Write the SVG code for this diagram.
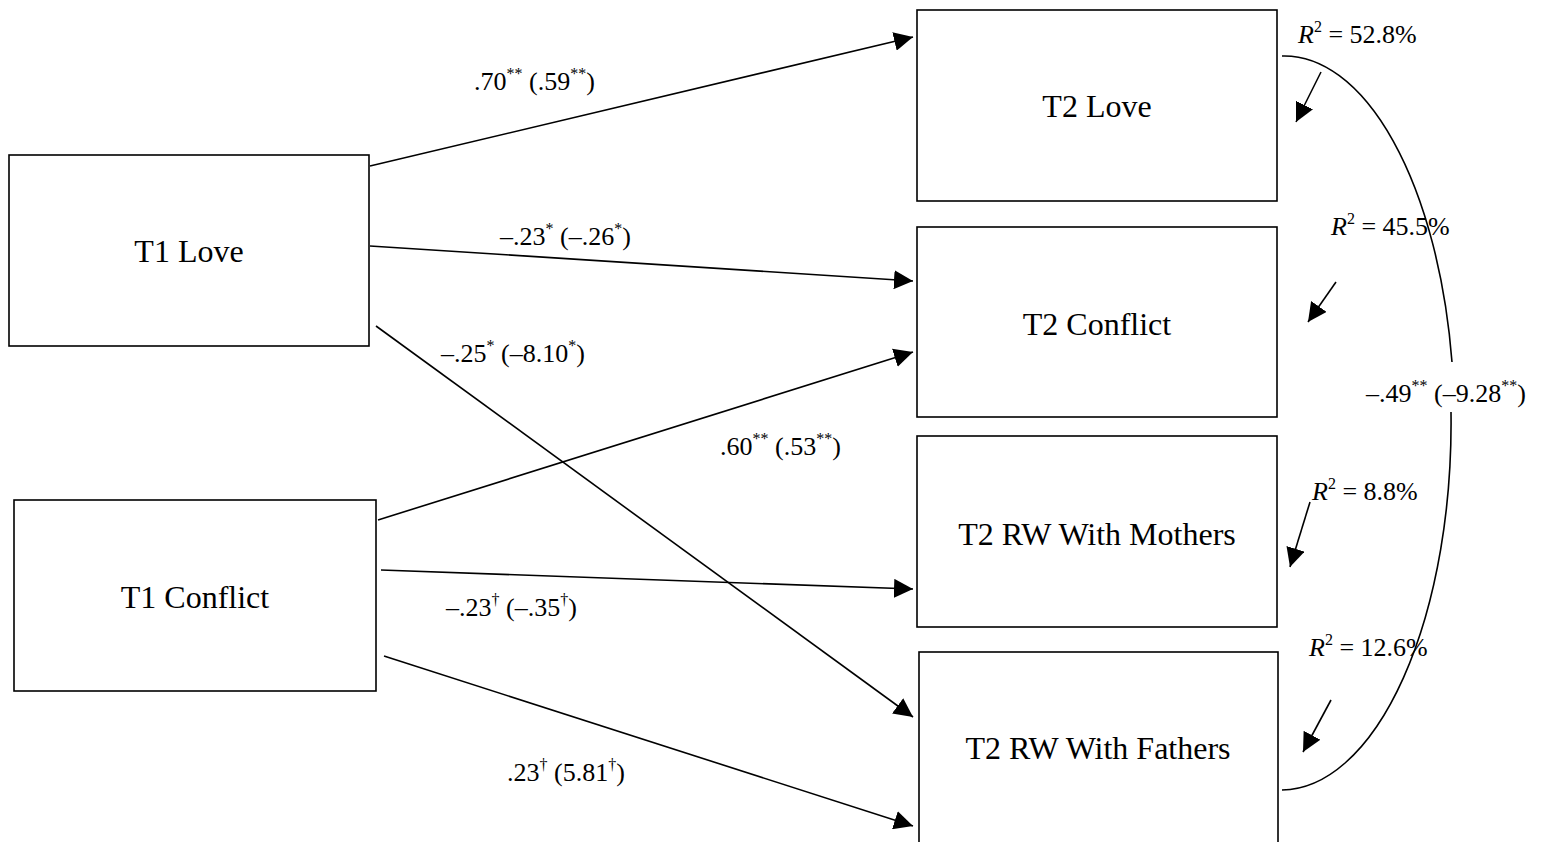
<svg xmlns="http://www.w3.org/2000/svg" width="1549" height="842" viewBox="0 0 1549 842">
<defs>
<style>
.box{fill:#fff;stroke:#000;stroke-width:1.6}
.nl{font-family:"Liberation Serif","Times New Roman",serif;font-size:32px;text-anchor:middle;fill:#000}
.el{font-family:"Liberation Serif","Times New Roman",serif;font-size:26px;fill:#000}
.sup{font-size:16px}
.it{font-style:italic}
.ln{fill:none;stroke:#000;stroke-width:1.6}
</style>
<marker id="ah2" viewBox="0 0 10 10" refX="10" refY="5" markerWidth="19" markerHeight="19" markerUnits="userSpaceOnUse" orient="auto">
<path d="M0,0 L10,5 L0,10 z" fill="#000"/>
</marker>
</defs>
<rect width="1549" height="842" fill="#fff"/>
<g id="t1love"><rect class="box" x="9" y="155" width="360" height="191"/><text class="nl" x="189" y="262">T1 Love</text></g>
<g id="t1conflict"><rect class="box" x="14" y="500" width="362" height="191"/><text class="nl" x="195" y="608">T1 Conflict</text></g>
<g id="t2love"><rect class="box" x="917" y="10" width="360" height="191"/><text class="nl" x="1097" y="117">T2 Love</text></g>
<g id="t2conflict"><rect class="box" x="917" y="227" width="360" height="190"/><text class="nl" x="1097" y="335">T2 Conflict</text></g>
<g id="t2mothers"><rect class="box" x="917" y="436" width="360" height="191"/><text class="nl" x="1097" y="545">T2 RW With Mothers</text></g>
<g id="t2fathers"><rect class="box" x="919" y="652" width="359" height="192"/><text class="nl" x="1098" y="759">T2 RW With Fathers</text></g>
<g id="connectors">
<line class="ln" x1="370" y1="166" x2="913" y2="37" marker-end="url(#ah2)"/>
<line class="ln" x1="370" y1="246" x2="913" y2="281" marker-end="url(#ah2)"/>
<line class="ln" x1="376" y1="326" x2="913" y2="717" marker-end="url(#ah2)"/>
<line class="ln" x1="378" y1="520" x2="913" y2="352" marker-end="url(#ah2)"/>
<line class="ln" x1="381" y1="570" x2="913" y2="589" marker-end="url(#ah2)"/>
<line class="ln" x1="384" y1="656" x2="913" y2="826" marker-end="url(#ah2)"/>
<line class="ln" x1="1321" y1="72" x2="1296" y2="122" marker-end="url(#ah2)"/>
<line class="ln" x1="1336" y1="282" x2="1308" y2="322" marker-end="url(#ah2)"/>
<line class="ln" x1="1310" y1="502" x2="1290" y2="567" marker-end="url(#ah2)"/>
<line class="ln" x1="1331" y1="700" x2="1303" y2="752" marker-end="url(#ah2)"/>
<path class="ln" d="M1282,56 A170,367 0 0 1 1452,362"/>
<path class="ln" d="M1451,412 A170,367 0 0 1 1282,790"/>
</g>
<g id="labels">
<text class="el" x="474" y="90">.70<tspan class="sup" dy="-11">**</tspan><tspan dy="11"> (.59</tspan><tspan class="sup" dy="-11">**</tspan><tspan dy="11">)</tspan></text>
<text class="el" x="500" y="245">–.23<tspan class="sup" dy="-11">*</tspan><tspan dy="11"> (–.26</tspan><tspan class="sup" dy="-11">*</tspan><tspan dy="11">)</tspan></text>
<text class="el" x="441" y="362">–.25<tspan class="sup" dy="-11">*</tspan><tspan dy="11"> (–8.10</tspan><tspan class="sup" dy="-11">*</tspan><tspan dy="11">)</tspan></text>
<text class="el" x="720" y="455">.60<tspan class="sup" dy="-11">**</tspan><tspan dy="11"> (.53</tspan><tspan class="sup" dy="-11">**</tspan><tspan dy="11">)</tspan></text>
<text class="el" x="446" y="616">–.23<tspan class="sup" dy="-11">†</tspan><tspan dy="11"> (–.35</tspan><tspan class="sup" dy="-11">†</tspan><tspan dy="11">)</tspan></text>
<text class="el" x="507" y="781">.23<tspan class="sup" dy="-11">†</tspan><tspan dy="11"> (5.81</tspan><tspan class="sup" dy="-11">†</tspan><tspan dy="11">)</tspan></text>
<text class="el" x="1366" y="402">–.49<tspan class="sup" dy="-11">**</tspan><tspan dy="11"> (–9.28</tspan><tspan class="sup" dy="-11">**</tspan><tspan dy="11">)</tspan></text>
<text class="el" x="1298" y="43"><tspan class="it">R</tspan><tspan class="sup" dy="-11">2</tspan><tspan dy="11"> = 52.8%</tspan></text>
<text class="el" x="1331" y="235"><tspan class="it">R</tspan><tspan class="sup" dy="-11">2</tspan><tspan dy="11"> = 45.5%</tspan></text>
<text class="el" x="1312" y="500"><tspan class="it">R</tspan><tspan class="sup" dy="-11">2</tspan><tspan dy="11"> = 8.8%</tspan></text>
<text class="el" x="1309" y="656"><tspan class="it">R</tspan><tspan class="sup" dy="-11">2</tspan><tspan dy="11"> = 12.6%</tspan></text>
</g>
</svg>
